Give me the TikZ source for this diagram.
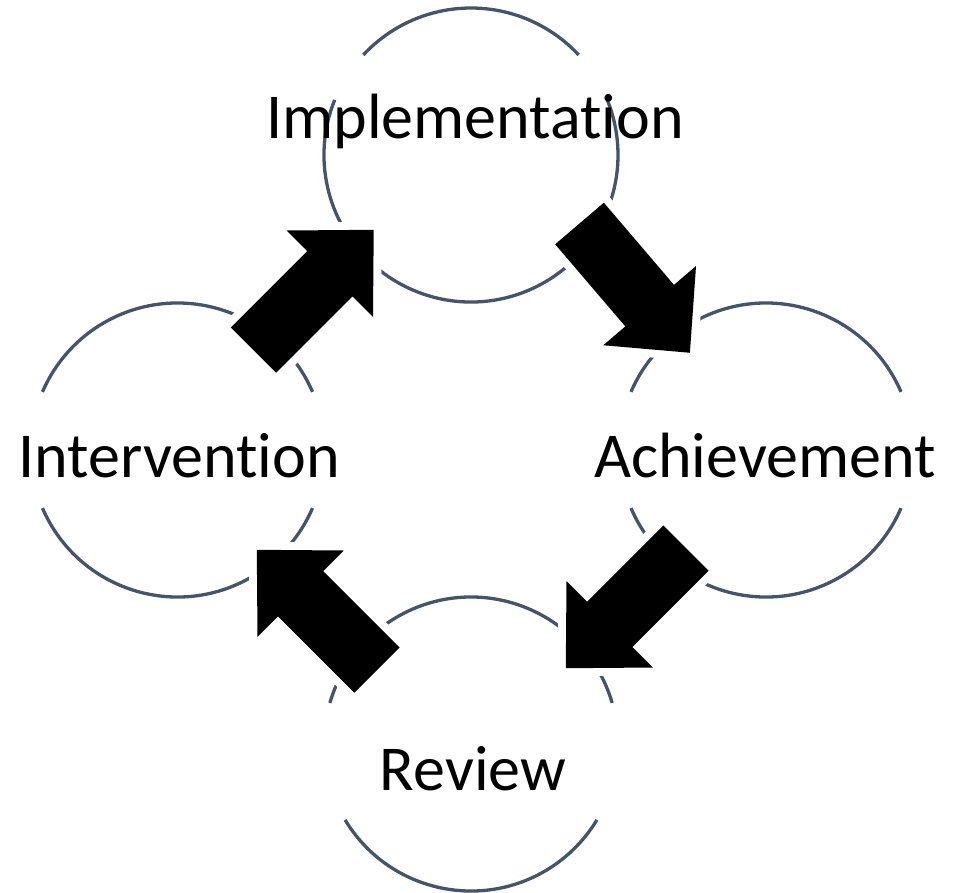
\documentclass[tikz,border=0pt]{standalone}
\usepackage{fontspec}
\setmainfont{Carlito}[Ligatures={NoCommon}]
\definecolor{ringcol}{RGB}{68,84,106}
\begin{document}
\begin{tikzpicture}[x=1pt,y=1pt,
  ring/.style={draw=ringcol, line width=3.3pt},
  blockarrow/.style={fill=black, preaction={draw=white, line width=16pt, line join=miter}},
  lbl/.style={font=\fontsize{64}{70}\selectfont, anchor=base, inner sep=0pt, text=black}]
\useasboundingbox (0,0) rectangle (961,-892);
% circle centres
\coordinate (ctop) at (471,-155);
\coordinate (cleft) at (177.5,-450);
\coordinate (cright) at (766,-450);
\coordinate (cbot) at (471,-744);
% rings (interrupted behind the labels)
\draw[ring] ([shift={(42.9:147)}]ctop) arc[start angle=42.9, end angle=137.1, radius=147];
\draw[ring] ([shift={(158:147)}]ctop) arc[start angle=158, end angle=382, radius=147];
\draw[ring] ([shift={(23.3:147)}]cleft) arc[start angle=23.3, end angle=156.7, radius=147];
\draw[ring] ([shift={(203.3:147)}]cleft) arc[start angle=203.3, end angle=336.7, radius=147];
\draw[ring] ([shift={(23.3:147)}]cright) arc[start angle=23.3, end angle=156.7, radius=147];
\draw[ring] ([shift={(203.3:147)}]cright) arc[start angle=203.3, end angle=336.7, radius=147];
\draw[ring] ([shift={(16.2:147)}]cbot) arc[start angle=16.2, end angle=163.8, radius=147];
\draw[ring] ([shift={(211.1:147)}]cbot) arc[start angle=211.1, end angle=328.9, radius=147];
% block arrows (tail midpoints)
\coordinate (a1) at (253.5,-350);
\coordinate (a2) at (579.5,-223.5);
\coordinate (a3) at (686,-548);
\coordinate (a4) at (377,-670);
\foreach \s/\ang in {a1/45, a2/-49.5, a3/225, a4/135}{
  \begin{scope}[shift={(\s)}, rotate=\ang]
    \path[blockarrow] (0,-32) -- (108,-32) -- (108,-61) -- (170,0) -- (108,61) -- (108,32) -- (0,32) -- cycle;
  \end{scope}
}
% labels
\node[lbl] (impl) at (475,-138) {Implementation};
\node[lbl] (interv) at (179,-477) {Intervention};
\node[lbl] (achiev) at (765,-477) {Achievement};
\node[lbl] (review) at (473,-790) {Review};
\end{tikzpicture}
\end{document}
